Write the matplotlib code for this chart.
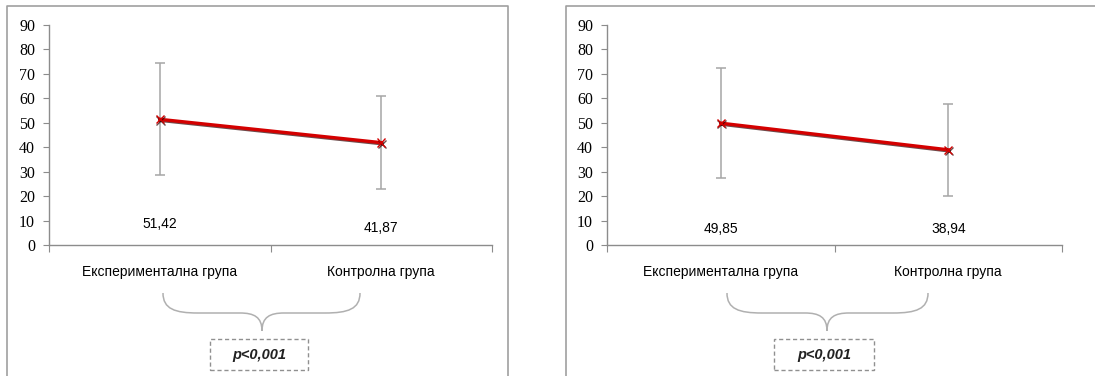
import numpy as np
import matplotlib
matplotlib.use("Agg")
import matplotlib.pyplot as plt
from matplotlib.path import Path
from matplotlib.patches import PathPatch, Rectangle
from matplotlib.lines import Line2D
import matplotlib.patheffects as pe

# data
groups = ['Експериментална група', 'Контролна група']
means_left = [51.42, 41.87]
sd_left = [22.9, 19.1]
means_right = [49.85, 38.94]
sd_right = [22.5, 18.8]
label_left = ['51,42', '41,87']
label_right = ['49,85', '38,94']
p_text = 'p<0,001'

W, H = 1095, 376
sans = ['Liberation Sans', 'DejaVu Sans']
serif = ['Liberation Serif', 'DejaVu Serif']

fig = plt.figure(figsize=(W / 100, H / 100), dpi=100)
fig.patch.set_facecolor('white')


def fx(x):
    return x / W


def fy(y):
    return 1 - y / H


def panel(ax_box, means, sds, labels, label_y, frame, brace, pbox):
    x0, x1, y0, y1 = ax_box
    ax = fig.add_axes([fx(x0), fy(y0), fx(x1 - x0), (y0 - y1) / H])
    xs = np.array([0.5, 1.5])
    ax.errorbar(xs, means, yerr=sds, fmt='none', ecolor='#a6a6a6',
                elinewidth=1.1, capsize=3.5, capthick=1.1, zorder=2)
    ax.plot(xs, means, color='#d40000', lw=2.4, marker='x', ms=6, mew=1.0,
            zorder=3,
            path_effects=[pe.SimpleLineShadow(offset=(0.6, -0.8), shadow_color='#300000', alpha=0.7),
                          pe.Normal()])
    ax.set_xlim(0, 2)
    ax.set_ylim(0, 90)
    ax.set_yticks(range(0, 91, 10))
    ax.set_xticks([0, 1, 2])
    ax.set_xticklabels([])
    for s in ['top', 'right']:
        ax.spines[s].set_visible(False)
    for s in ['left', 'bottom']:
        ax.spines[s].set_color('#8c8c8c')
        ax.spines[s].set_linewidth(1.0)
    ax.tick_params(axis='y', length=4, width=0.8, color='#8c8c8c', pad=6,
                   labelsize=11.5)
    ax.tick_params(axis='x', length=5, width=0.8, color='#8c8c8c')
    for t in ax.get_yticklabels():
        t.set_family(serif)
    ax.set_facecolor('none')

    # value labels and category labels
    for i, x in enumerate(xs):
        ax.text(x, (y0 - label_y[i]) / (y0 - y1), labels[i],
                transform=ax.get_xaxis_transform(),
                ha='center', va='center', fontsize=10, family=sans)
        ax.text(x, (y0 - 272) / (y0 - y1), groups[i],
                transform=ax.get_xaxis_transform(),
                ha='center', va='center', fontsize=10, family=sans)

    # frame around panel
    fl, ft, fr = frame
    fig.add_artist(Line2D([fx(fl), fx(fl), fx(fr), fx(fr)],
                          [fy(H + 5), fy(ft), fy(ft), fy(H + 5)],
                          color='#a0a0a0', lw=1.2))

    # curly brace
    bl, br, bm = brace
    yt, ym, yb = 293, 313, 331
    verts = [(bl, yt), (bl, ym - 4), (bl + 12, ym), (bl + 35, ym),
             (bm - 22, ym), (bm - 8, ym), (bm, ym + 4), (bm, yb),
             (br, yt), (br, ym - 4), (br - 12, ym), (br - 35, ym),
             (bm + 22, ym), (bm + 8, ym), (bm, ym + 4), (bm, yb)]
    codes = [Path.MOVETO, Path.CURVE4, Path.CURVE4, Path.CURVE4,
             Path.LINETO, Path.CURVE4, Path.CURVE4, Path.CURVE4] * 2
    verts = [(fx(a), fy(b)) for a, b in verts]
    fig.add_artist(PathPatch(Path(verts, codes), transform=fig.transFigure,
                             fill=False, edgecolor='#b0b0b0', lw=1.1))

    # dashed p-value box
    pl, pr, pt, pb = pbox
    fig.add_artist(Rectangle((fx(pl), fy(pb)), fx(pr - pl), (pb - pt) / H,
                             transform=fig.transFigure, fill=False,
                             edgecolor='#909090', lw=1.0, ls=(0, (3, 2))))
    fig.text(fx((pl + pr) / 2), fy((pt + pb) / 2 + 1), p_text, ha='center',
             va='center', fontsize=10.5, style='italic', weight='bold',
             family=sans, color='#222222')
    return ax


panel((49, 492, 245, 25), means_left, sd_left, label_left, [224, 228],
      (7, 6, 508), (163, 360, 262), (210, 308, 339, 370))
panel((607, 1062, 245, 25), means_right, sd_right, label_right, [229, 229],
      (566, 6, 1110), (727, 928, 827), (774, 874, 339, 370))

fig.savefig('out.png', dpi=100, facecolor='white')
